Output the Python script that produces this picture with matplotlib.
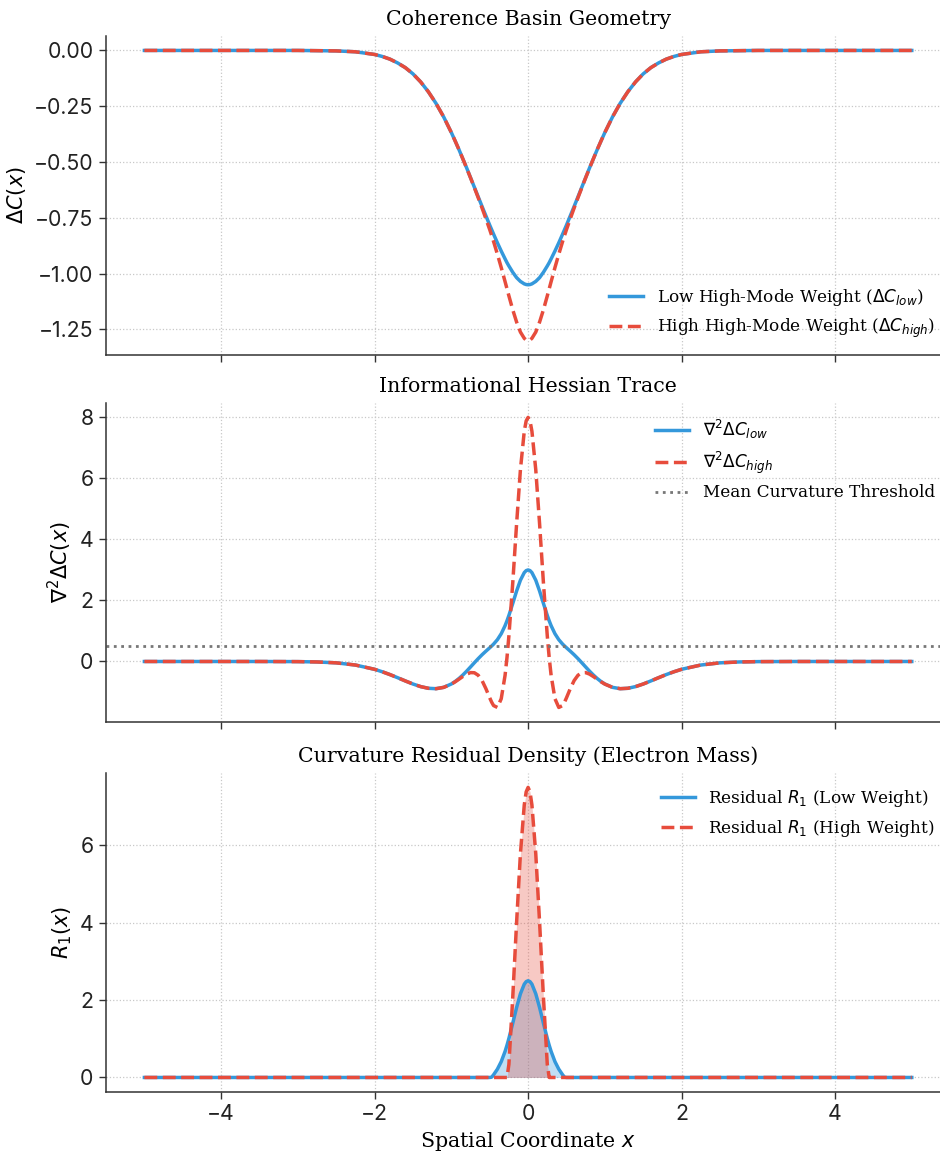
import numpy as np
import matplotlib
matplotlib.use("Agg")
import matplotlib.pyplot as plt

# ---------------- data ----------------
x = [-5.0, -4.5, -4.0, -3.5, -3.0, -2.75, -2.5, -2.25, -2.0, -1.9, -1.8, -1.7, -1.6, -1.5,
     -1.4, -1.3, -1.2, -1.1, -1.0, -0.95, -0.9, -0.85, -0.8, -0.75, -0.7, -0.65, -0.6, -0.55,
     -0.5, -0.475, -0.45, -0.4, -0.35, -0.3, -0.275, -0.25, -0.2, -0.15, -0.1, -0.05, -0.025,
     0.0,
     0.025, 0.05, 0.1, 0.15, 0.2, 0.25, 0.275, 0.3, 0.35, 0.4, 0.45, 0.475, 0.5, 0.55, 0.6,
     0.65, 0.7, 0.75, 0.8, 0.85, 0.9, 0.95, 1.0, 1.1, 1.2, 1.3, 1.4, 1.5, 1.6, 1.7, 1.8, 1.9,
     2.0, 2.25, 2.5, 2.75, 3.0, 3.5, 4.0, 4.5, 5.0]

dc_low = [0.0, 0.0, 0.0, 0.0, 0.0, -0.001, -0.002, -0.006, -0.018, -0.027, -0.039, -0.056, -0.077, -0.105,
          -0.141, -0.185, -0.237, -0.298, -0.368, -0.406, -0.445, -0.486, -0.527, -0.570, -0.613, -0.656, -0.699, -0.741,
          -0.783, -0.803, -0.823, -0.862, -0.899, -0.934, -0.951, -0.966, -0.994, -1.018, -1.035, -1.046, -1.049,
          -1.050,
          -1.049, -1.046, -1.035, -1.018, -0.994, -0.966, -0.951, -0.934, -0.899, -0.862, -0.823, -0.803, -0.783, -0.741, -0.699,
          -0.656, -0.613, -0.570, -0.527, -0.486, -0.445, -0.406, -0.368, -0.298, -0.237, -0.185, -0.141, -0.105, -0.077, -0.056, -0.039, -0.027,
          -0.018, -0.006, -0.002, -0.001, 0.0, 0.0, 0.0, 0.0, 0.0]

dc_high = [0.0, 0.0, 0.0, 0.0, 0.0, -0.001, -0.002, -0.006, -0.018, -0.027, -0.039, -0.056, -0.077, -0.105,
           -0.141, -0.185, -0.237, -0.298, -0.368, -0.406, -0.445, -0.486, -0.528, -0.571, -0.615, -0.660, -0.706, -0.754,
           -0.803, -0.829, -0.856, -0.913, -0.973, -1.036, -1.068, -1.100, -1.162, -1.217, -1.262, -1.290, -1.298,
           -1.300,
           -1.298, -1.290, -1.262, -1.217, -1.162, -1.100, -1.068, -1.036, -0.973, -0.913, -0.856, -0.829, -0.803, -0.754, -0.706,
           -0.660, -0.615, -0.571, -0.528, -0.486, -0.445, -0.406, -0.368, -0.298, -0.237, -0.185, -0.141, -0.105, -0.077, -0.056, -0.039, -0.027,
           -0.018, -0.006, -0.002, -0.001, 0.0, 0.0, 0.0, 0.0, 0.0]

lap_low = [0.0, 0.0, 0.0, 0.0, -0.004, -0.015, -0.044, -0.116, -0.256, -0.337, -0.429, -0.531, -0.637, -0.738,
           -0.823, -0.878, -0.891, -0.847, -0.737, -0.655, -0.556, -0.442, -0.315, -0.179, -0.041, 0.094, 0.221, 0.338,
           0.450, 0.508, 0.569, 0.715, 0.910, 1.174, 1.333, 1.510, 1.902, 2.307, 2.664, 2.912, 2.978,
           3.000,
           2.978, 2.912, 2.664, 2.307, 1.902, 1.510, 1.333, 1.174, 0.910, 0.715, 0.569, 0.508, 0.450, 0.338, 0.221,
           0.094, -0.041, -0.179, -0.315, -0.442, -0.556, -0.655, -0.737, -0.847, -0.891, -0.878, -0.823, -0.738, -0.637, -0.531, -0.429, -0.337,
           -0.256, -0.116, -0.044, -0.015, -0.004, 0.0, 0.0, 0.0, 0.0]

lap_high = [0.0, 0.0, 0.0, 0.0, -0.004, -0.015, -0.044, -0.116, -0.256, -0.337, -0.429, -0.531, -0.637, -0.738,
            -0.823, -0.878, -0.891, -0.848, -0.741, -0.665, -0.579, -0.491, -0.413, -0.364, -0.369, -0.451, -0.625, -0.889,
            -1.191, -1.332, -1.444, -1.506, -1.220, -0.453, 0.130, 0.841, 2.572, 4.503, 6.284, 7.544, 7.884,
            8.000,
            7.884, 7.544, 6.284, 4.503, 2.572, 0.841, 0.130, -0.453, -1.220, -1.506, -1.444, -1.332, -1.191, -0.889, -0.625,
            -0.451, -0.369, -0.364, -0.413, -0.491, -0.579, -0.665, -0.741, -0.848, -0.891, -0.878, -0.823, -0.738, -0.637, -0.531, -0.429, -0.337,
            -0.256, -0.116, -0.044, -0.015, -0.004, 0.0, 0.0, 0.0, 0.0]

res_low = [0.0] * 29 + [0.008, 0.069, 0.215, 0.410, 0.674, 0.833, 1.010, 1.402, 1.807, 2.164, 2.412, 2.478,
                        2.500,
                        2.478, 2.412, 2.164, 1.807, 1.402, 1.010, 0.833, 0.674, 0.410, 0.215, 0.069, 0.008] + [0.0] * 29

res_high = [0.0] * 35 + [0.341, 2.072, 4.003, 5.784, 7.044, 7.384,
                         7.500,
                         7.384, 7.044, 5.784, 4.003, 2.072, 0.341] + [0.0] * 35

threshold = 0.5

x_ticks = [-4, -2, 0, 2, 4]
x_ticklabels = ["\u22124", "\u22122", "0", "2", "4"]
y1_ticks = [0.0, -0.25, -0.5, -0.75, -1.0, -1.25]
y1_ticklabels = ["0.00", "\u22120.25", "\u22120.50", "\u22120.75", "\u22121.00", "\u22121.25"]
y2_ticks = [0, 2, 4, 6, 8]
y3_ticks = [0, 2, 4, 6]

for arr in (dc_low, dc_high, lap_low, lap_high, res_low, res_high):
    assert len(arr) == len(x), len(arr)

# ---------------- style ----------------
BLUE = "#3498db"
RED = "#e74c3c"
SERIF = ["DejaVu Serif"]
TICKFONT = "Inter"
TITLE_SIZE = 14.8
LEG_SIZE = 12.2
YLAB_SIZE = 15

plt.rcParams["mathtext.fontset"] = "dejavusans"

fig = plt.figure(figsize=(9.4, 11.52), dpi=100)
left, width, height = 0.1128, 0.898, 0.2770
bottoms = [0.6918, 0.3733, 0.0521]
axes = [fig.add_axes([left, b, width, height]) for b in bottoms]
for a in axes[1:]:
    a.sharex(axes[0])


def style(ax):
    ax.grid(True, linestyle=":", color="#c8c8c8", linewidth=0.9)
    ax.set_axisbelow(True)
    for s in ("top", "right"):
        ax.spines[s].set_visible(False)
    for s in ("left", "bottom"):
        ax.spines[s].set_color("#333333")
        ax.spines[s].set_linewidth(1.1)
    ax.tick_params(colors="#333333", labelcolor="#222222", labelsize=15.3,
                   labelfontfamily=TICKFONT, length=5, width=1.0, pad=4)


lw = 2.5
# --- panel 1 ---
ax = axes[0]
ax.plot(x, dc_low, color=BLUE, lw=lw, label=r"Low High-Mode Weight ($\Delta C_{low}$)")
ax.plot(x, dc_high, color=RED, lw=lw, ls="--", label=r"High High-Mode Weight ($\Delta C_{high}$)")
ax.set_title("Coherence Basin Geometry", fontfamily=SERIF, fontsize=TITLE_SIZE, pad=8)
ax.set_ylabel(r"$\Delta C(x)$", fontsize=YLAB_SIZE)
ax.set_yticks(y1_ticks)
ax.set_yticklabels(y1_ticklabels)
ax.legend(loc="lower right", frameon=False, prop={"family": SERIF, "size": LEG_SIZE})

# --- panel 2 ---
ax = axes[1]
ax.plot(x, lap_low, color=BLUE, lw=lw, label=r"$\nabla^2 \Delta C_{low}$")
ax.plot(x, lap_high, color=RED, lw=lw, ls="--", label=r"$\nabla^2 \Delta C_{high}$")
ax.axhline(threshold, color="#777777", ls=":", lw=2.0, label="Mean Curvature Threshold")
ax.set_title("Informational Hessian Trace", fontfamily=SERIF, fontsize=TITLE_SIZE, pad=8)
ax.set_ylabel(r"$\nabla^2 \Delta C(x)$", fontsize=YLAB_SIZE)
ax.set_yticks(y2_ticks)
ax.legend(loc="upper right", frameon=False, prop={"family": SERIF, "size": LEG_SIZE})

# --- panel 3 ---
ax = axes[2]
ax.plot(x, res_low, color=BLUE, lw=lw, label=r"Residual $R_1$ (Low Weight)")
ax.fill_between(x, res_low, color=BLUE, alpha=0.3, lw=0)
ax.plot(x, res_high, color=RED, lw=lw, ls="--", label=r"Residual $R_1$ (High Weight)")
ax.fill_between(x, res_high, color=RED, alpha=0.3, lw=0)
ax.set_title("Curvature Residual Density (Electron Mass)", fontfamily=SERIF, fontsize=TITLE_SIZE, pad=8)
ax.set_ylabel(r"$R_1(x)$", fontsize=YLAB_SIZE)
ax.set_yticks(y3_ticks)
ax.set_xlabel(r"Spatial Coordinate $x$", fontfamily=SERIF, fontsize=TITLE_SIZE)
ax.legend(loc="upper right", frameon=False, prop={"family": SERIF, "size": LEG_SIZE})

axes[0].set_xlim(-5.5, 5.5)
axes[0].set_xticks(x_ticks)
axes[2].set_xticklabels(x_ticklabels)
for a in axes[:2]:
    a.tick_params(labelbottom=False)
for a in axes:
    style(a)

fig.savefig("out.png", dpi=100)
